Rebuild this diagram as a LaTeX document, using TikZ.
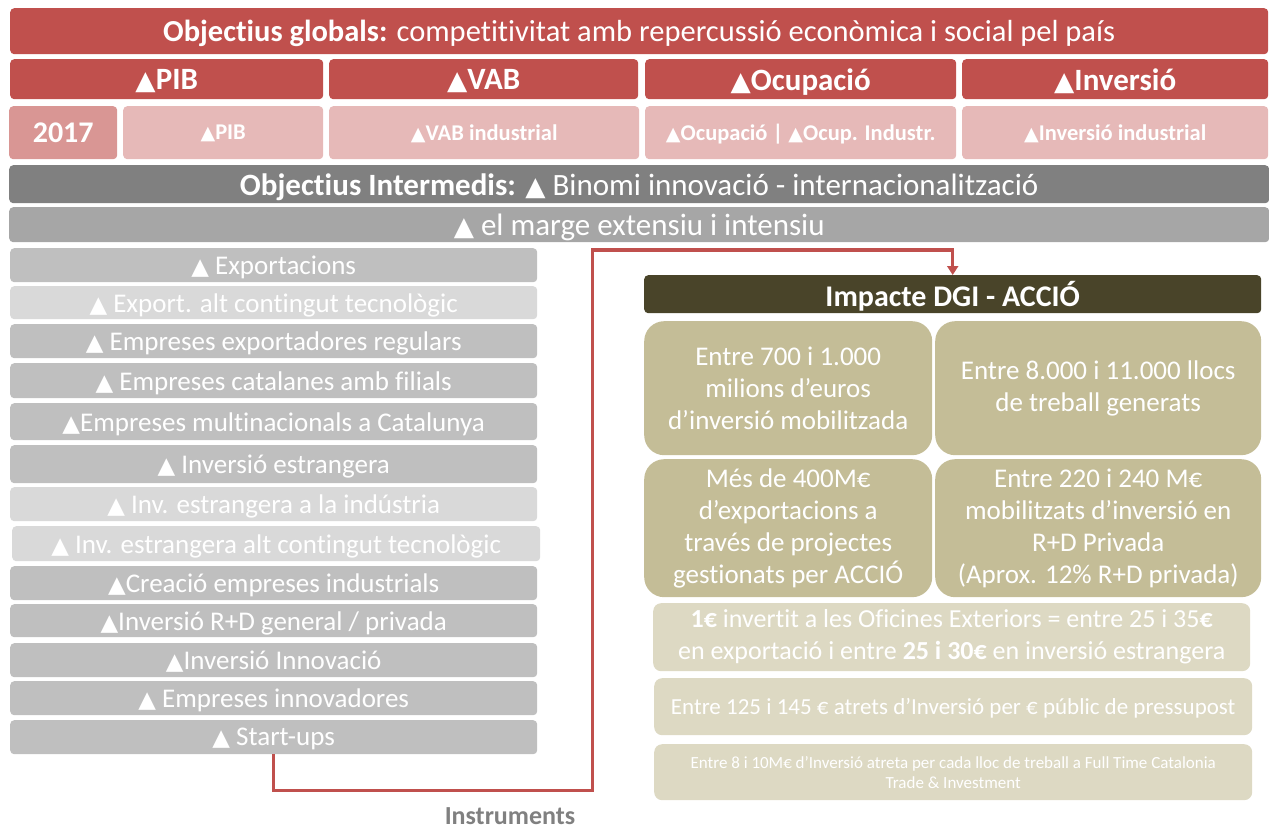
\documentclass[tikz,border=0pt]{standalone}
\usepackage{fontspec}
\setmainfont{Carlito}[Ligatures={NoCommon}]
\newfontfamily\dv{DejaVu Sans}
\usepackage{graphicx}
\usetikzlibrary{arrows.meta}
\definecolor{rd}{HTML}{C0504D}
\definecolor{pk}{HTML}{E6B9B8}
\definecolor{pk2}{HTML}{D99694}
\definecolor{g1}{HTML}{808080}
\definecolor{g2}{HTML}{A6A6A6}
\definecolor{g3}{HTML}{BFBFBF}
\definecolor{g4}{HTML}{D9D9D9}
\definecolor{ol}{HTML}{494429}
\definecolor{tn}{HTML}{C4BD97}
\definecolor{tl}{HTML}{DDD9C3}
\newcommand\tri{\scalebox{0.85}{\dv ▲}}
\tikzset{
  bx/.style={rectangle, rounded corners=4pt, anchor=north west, inner sep=2pt, text=white, align=center},
  one/.style={text depth=0pt},
  red2/.style={bx, one, fill=rd, minimum height=40pt, font=\fontsize{31}{36}\selectfont\bfseries},
  pink3/.style={bx, one, fill=pk, minimum height=53pt, font=\fontsize{22.5}{27}\selectfont\bfseries},
  li/.style={bx, one, fill=g3, minimum width=527pt, font=\fontsize{27}{31}\selectfont},
  lil/.style={li, fill=g4},
  tan/.style={bx, fill=tn, rounded corners=20pt, font=\fontsize{27}{32}\selectfont},
  tanl/.style={bx, fill=tl, rounded corners=8pt},
  conn/.style={rd, line width=3pt, -{Triangle[width=11pt,length=9pt]}}
}
\begin{document}
\begin{tikzpicture}[x=1pt,y=-1pt]
\useasboundingbox (0,0) rectangle (1269,829);
% global objectives
\node[bx, one, fill=rd, minimum width=1258pt, minimum height=46pt, font=\fontsize{30.5}{35}\selectfont] (glob) at (10,8)
  {\textbf{Objectius globals:} competitivitat amb repercussió econòmica i social pel país};
\node[red2, minimum width=313pt] (pib) at (10,59) {\tri PIB};
\node[red2, minimum width=309pt] (vab) at (329,59) {\tri VAB};
\node[red2, minimum width=311pt] (ocu) at (645,59) {\tri Ocupació};
\node[red2, minimum width=306pt] (inv) at (962,59) {\tri Inversió};
\node[bx, one, fill=pk2, minimum width=108pt, minimum height=53pt, font=\fontsize{30}{35}\selectfont\bfseries] (y17) at (9,106) {2017};
\node[pink3, minimum width=200pt] (pibb) at (123,106) {\tri PIB};
\node[pink3, minimum width=310pt] (vabb) at (329,106) {\tri VAB industrial};
\node[pink3, minimum width=311pt] (ocub) at (645,106) {\tri Ocupació | \tri Ocup. Industr.};
\node[pink3, minimum width=306pt] (invb) at (962,106) {\tri Inversió industrial};
% intermediate
\node[bx, one, fill=g1, minimum width=1260pt, minimum height=38pt, font=\fontsize{31}{36}\selectfont] (inter) at (9,165)
  {\textbf{Objectius Intermedis:} \tri\ Binomi innovació - internacionalització};
\node[bx, one, fill=g2, minimum width=1260pt, minimum height=35pt, font=\fontsize{31}{36}\selectfont] (marge) at (9,207)
  {\tri\ el marge extensiu i intensiu};
% list
\node[li, minimum height=34pt] (ex) at (10,248) {\tri\ Exportacions};
\node[lil, minimum height=33pt] (exa) at (10,286) {\tri\ Export. alt contingut tecnològic};
\node[li, minimum height=34pt] (eer) at (10,324) {\tri\ Empreses exportadores regulars};
\node[li, minimum height=35pt] (ecf) at (10,363) {\tri\ Empreses catalanes amb filials};
\node[li, minimum height=37pt] (emc) at (10,403) {\tri Empreses multinacionals a Catalunya};
\node[li, minimum height=38pt] (ie) at (10,445) {\tri\ Inversió estrangera};
\node[lil, minimum height=34pt] (iei) at (10,487) {\tri\ Inv. estrangera a la indústria};
\node[lil, minimum height=35pt, minimum width=528pt] (iea) at (12,526) {\tri\ Inv. estrangera alt contingut tecnològic};
\node[li, minimum height=34pt] (cei) at (10,566) {\tri Creació empreses industrials};
\node[li, minimum height=33pt] (ird) at (10,604) {\tri Inversió R+D general / privada};
\node[li, minimum height=34pt] (ii) at (10,643) {\tri Inversió Innovació};
\node[li, minimum height=34pt] (ei) at (10,681) {\tri\ Empreses innovadores};
\node[li, minimum height=34pt] (su) at (10,720) {\tri\ Start-ups};
% impact
\node[bx, one, fill=ol, minimum width=617pt, minimum height=38pt, font=\fontsize{30}{34}\selectfont\bfseries] (imp) at (644,275) {Impacte DGI - ACCIÓ};
\node[tan, minimum width=288pt, minimum height=134pt] (t1) at (644,321) {Entre 700 i 1.000\\milions d’euros\\d’inversió mobilitzada};
\node[tan, minimum width=326pt, minimum height=134pt] (t2) at (935,321) {Entre 8.000 i 11.000 llocs\\de treball generats};
\node[tan, minimum width=288pt, minimum height=138pt] (t3) at (644,459) {Més de 400M€\\d’exportacions a\\través de projectes\\gestionats per ACCIÓ};
\node[tan, minimum width=326pt, minimum height=138pt] (t4) at (935,459) {Entre 220 i 240 M€\\mobilitzats d’inversió en\\R+D Privada\\(Aprox. 12\% R+D privada)};
\node[tanl, minimum width=597pt, minimum height=68pt, font=\fontsize{26}{32}\selectfont] (t5) at (653,603)
  {\textbf{1€} invertit a les Oficines Exteriors = entre 25 i 35\textbf{€}\\en exportació i entre \textbf{25 i 30€} en inversió estrangera};
\node[tanl, one, minimum width=598pt, minimum height=57pt, font=\fontsize{23}{27}\selectfont] (t6) at (654,678)
  {Entre 125 i 145 € atrets d’Inversió per € públic de pressupost};
\node[tanl, minimum width=598pt, minimum height=56pt, font=\fontsize{17}{20}\selectfont] (t7) at (654,744)
  {Entre 8 i 10M€ d’Inversió atreta per cada lloc de treball a Full Time Catalonia\\Trade \& Investment};
\node[text=g1, anchor=base, inner sep=0pt, font=\fontsize{26}{30}\selectfont\bfseries] (instr) at (510,824) {Instruments};
% connector
\coordinate (c2) at (592,790);
\coordinate (c3) at (592,250);
\draw[conn] (su.south) |- (c2) -- (c3) -| (imp.north);
\end{tikzpicture}
\end{document}
